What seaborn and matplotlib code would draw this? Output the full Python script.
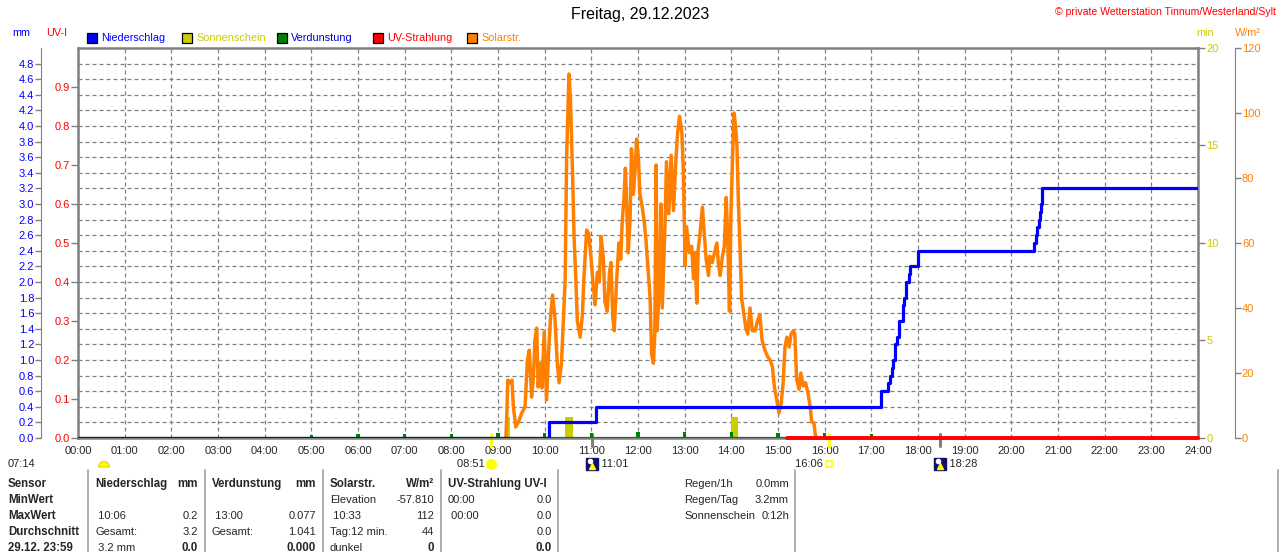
import matplotlib
matplotlib.use("Agg")
import numpy as np
import pandas as pd
import matplotlib.pyplot as plt
import matplotlib.transforms as mtrans
from matplotlib.patches import Rectangle, Wedge
from matplotlib.lines import Line2D
import seaborn as sns

# ---------------- data ----------------
title_text = "Freitag, 29.12.2023"
copyright_text = "\u00a9 private Wetterstation Tinnum/Westerland/Sylt"

hour_ticks = list(range(25))
hour_labels = [f"{h:02d}:00" for h in hour_ticks]
mm_ticks = [round(0.2 * i, 1) for i in range(25)]
uv_ticks = [round(0.1 * i, 1) for i in range(10)]
min_ticks = [0, 5, 10, 15, 20]
wm2_ticks = [0, 20, 40, 60, 80, 100, 120]

# Solarstrahlung (W/m2), time in hours
solar_t = [9.17, 9.19, 9.21, 9.26, 9.30, 9.33, 9.38, 9.44, 9.51, 9.58, 9.63, 9.67, 9.72, 9.76,
           9.79, 9.83, 9.86, 9.90, 9.94, 9.99, 10.04, 10.09, 10.13, 10.17, 10.22, 10.27, 10.31,
           10.36, 10.40, 10.44, 10.47, 10.52, 10.55, 10.60, 10.63, 10.67, 10.70, 10.76, 10.81,
           10.84, 10.90, 10.94, 10.99, 11.04, 11.08, 11.13, 11.17, 11.21, 11.26, 11.29, 11.34,
           11.39, 11.42, 11.46, 11.49, 11.54, 11.59, 11.63, 11.66, 11.70, 11.73, 11.76, 11.79,
           11.83, 11.86, 11.90, 11.94, 11.97, 12.01, 12.04, 12.08, 12.13, 12.17, 12.22, 12.26,
           12.29, 12.33, 12.36, 12.39, 12.41, 12.46, 12.49, 12.52, 12.58, 12.61, 12.66, 12.71,
           12.76, 12.81, 12.85, 12.89, 12.94, 12.97, 13.01, 13.04, 13.10, 13.15, 13.19, 13.22,
           13.26, 13.29, 13.33, 13.38, 13.42, 13.46, 13.51, 13.54, 13.59, 13.64, 13.69, 13.72,
           13.76, 13.81, 13.85, 13.89, 13.92, 13.96, 13.99, 14.03, 14.06, 14.09, 14.12, 14.15,
           14.19, 14.22, 14.27, 14.31, 14.35, 14.40, 14.45, 14.51, 14.56, 14.61, 14.66, 14.72,
           14.78, 14.83, 14.88, 14.92, 14.97, 15.02, 15.07, 15.11, 15.15, 15.19, 15.24, 15.28,
           15.33, 15.36, 15.40, 15.45, 15.49, 15.54, 15.59, 15.64, 15.69, 15.72, 15.77, 15.80,
           15.83]
solar_w = [0, 8, 17.8, 17, 17.8, 9.6, 3.4, 5, 7.7, 9.6, 24, 27, 12.6, 18.8,
           30, 33.8, 15.7, 23, 15.4, 32.6, 11.7, 28, 38, 44, 37, 23, 17,
           23, 36, 49, 86, 112, 105, 80, 62, 48, 36, 31, 38,
           49, 64, 63, 56, 47, 41, 51, 48, 62, 55, 42, 39,
           51, 54, 37, 33, 48, 60, 55, 66, 74, 83, 71, 57,
           67, 89, 75, 83, 92, 86, 75, 72, 67, 61, 51, 43,
           26, 23, 32, 84, 33, 48, 72, 40, 66, 85, 69, 87,
           70, 85, 94, 99, 94, 83, 53, 65, 57, 59, 49, 57,
           41.5, 58, 63, 71, 63, 55, 50, 56, 54, 57, 60, 54,
           50, 56, 59, 74, 63, 39, 68, 88, 100, 96, 90, 73,
           57, 43, 38, 34, 32, 40, 33, 33, 36, 38, 30, 27,
           25, 24, 22, 16, 12, 7.7, 10.8, 17, 28, 31, 28, 32,
           33, 32, 18, 15, 20, 16, 17, 14, 9.6, 5, 4.6, 1,
           0]

# Niederschlag (mm, cumulative)
rain_t = [0.0, 10.10, 11.10, 17.20, 17.36, 17.40, 17.44, 17.47, 17.51, 17.56, 17.59, 17.67,
          17.71, 17.74, 17.81, 17.83, 17.99, 18.01, 20.49, 20.52, 20.56, 20.59, 20.61, 20.64,
          20.65, 24.0]
rain_mm = [0.0, 0.2, 0.4, 0.6, 0.7, 0.8, 0.9, 1.0, 1.2, 1.3, 1.5, 1.7,
           1.8, 2.0, 2.1, 2.2, 2.3, 2.4, 2.5, 2.6, 2.7, 2.8, 2.9, 3.0,
           3.2, 3.2]

# Verdunstung (mm per hour)
evap_t = list(range(1, 24))
evap_mm = [0.015, 0.015, 0.015, 0.015, 0.04, 0.045, 0.045, 0.045, 0.06, 0.06, 0.07, 0.075,
           0.077, 0.075, 0.07, 0.065, 0.055, 0.02, 0.02, 0.02, 0.02, 0.02, 0.02]

# Sonnenschein (min)
sun_start = [9.19, 10.44, 13.99]
sun_end = [9.26, 10.61, 14.14]
sun_min = [1.1, 1.1, 1.1]

# UV-Strahlung (UV-I)
uv_t = [15.19, 24.0]
uv_i = [0.0, 0.0]

# astronomical events
dawn_label = "07:14"
sunrise_t, sunrise_label = 8.85, "08:51"
sunset_t, sunset_label = 16.10, "16:06"
moon_t = [11.02, 18.47]
moon_labels = ["11:01", "18:28"]

legend_items = [("Niederschlag", "#0000ff", "#0000ff"),
                ("Sonnenschein", "#cccc00", "#cccc00"),
                ("Verdunstung", "#008000", "#0000cc"),
                ("UV-Strahlung", "#ff0000", "#ff0000"),
                ("Solarstr.", "#ff8000", "#ff8000")]

table_rows = [
    ["Sensor", "Niederschlag", "mm", "Verdunstung", "mm", "Solarstr.", "W/m\u00b2", "UV-Strahlung UV-I", ""],
    ["MinWert", "", "", "", "", "Elevation", "-57.810", "00:00", "0.0"],
    ["MaxWert", " 10:06", "0.2", " 13:00", "0.077", " 10:33", "112", " 00:00", "0.0"],
    ["Durchschnitt", "Gesamt:", "3.2", "Gesamt:", "1.041", "Tag:12 min.", "44", "", "0.0"],
    ["29.12. 23:59", " 3.2 mm", "0.0", "", "0.000", "dunkel", "0", "", "0.0"],
]
side_rows = [["Regen/1h", "0.0mm"], ["Regen/Tag", "3.2mm"], ["Sonnenschein", "0:12h"]]

# ---------------- figure ----------------
sns.set_style("white")
plt.rcParams["font.family"] = ["Liberation Sans", "DejaVu Sans"]
plt.rcParams["font.size"] = 8

W, H = 1280, 552
fig = plt.figure(figsize=(W / 100, H / 100), dpi=100)


def fx(x):
    return x / W


def fy(y):
    return 1 - y / H


L, R, T, B = 78, 1198, 48, 438
base = fig.add_axes([fx(L), fy(B), (R - L) / W, (B - T) / H])
ax_min = base.twinx()
ax_w = base.twinx()
ax_mm = base.twinx()
ax_uv = base.twinx()

GRAY = "#808080"
base.set_xlim(0, 24)
base.set_ylim(0, 5.0)
base.set_xticks(hour_ticks)
base.set_xticklabels(hour_labels, fontsize=8)
base.set_yticks(mm_ticks)
base.tick_params(axis="x", length=0, pad=5.5)
base.tick_params(axis="y", length=0, labelleft=False, labelright=False)
base.grid(True, color=GRAY, linestyle=(0, (3.2, 2.4)), linewidth=0.9)
for s in base.spines.values():
    s.set_color(GRAY)
    s.set_linewidth(1.8)

for a in (ax_min, ax_w, ax_mm, ax_uv):
    for s in a.spines.values():
        s.set_visible(False)

# sunshine bars (min)
ax_min.set_ylim(0, 20)
ax_min.bar(sun_start, sun_min, width=np.array(sun_end) - np.array(sun_start), align="edge",
           color="#cccc00", edgecolor="none")
ax_min.set_yticks(min_ticks)
ax_min.yaxis.tick_right()
ax_min.tick_params(axis="y", colors=GRAY, labelcolor="#cccc00", length=5, width=1, pad=1, labelsize=8)

# solar
ax_w.set_ylim(0, 120)
sns.lineplot(x=solar_t, y=solar_w, ax=ax_w, color="#ff8000", linewidth=2.5,
             estimator=None, sort=False)
ax_w.set_yticks(wm2_ticks)
ax_w.yaxis.tick_right()
ax_w.spines["right"].set_visible(True)
ax_w.spines["right"].set_position(("outward", 26.6))
ax_w.spines["right"].set_color(GRAY)
ax_w.tick_params(axis="y", colors=GRAY, labelcolor="#ff8000", length=4, width=1, pad=1, labelsize=8)
ax_w.set_ylabel("")

# rain + evaporation (mm)
ax_mm.set_ylim(0, 5.0)
ax_mm.plot([0, 24], [0, 0], color="#008000", linewidth=1.6)
ax_mm.bar(evap_t, evap_mm, width=0.07, color="#008000", edgecolor="none")
sns.lineplot(x=rain_t, y=rain_mm, ax=ax_mm, color="#0000ff", linewidth=2.3,
             drawstyle="steps-post", estimator=None, sort=False)
ax_mm.yaxis.tick_left()
ax_mm.yaxis.set_label_position("left")
ax_mm.set_yticks(mm_ticks)
ax_mm.set_yticklabels([f"{v:.1f}" for v in mm_ticks])
ax_mm.spines["left"].set_visible(True)
ax_mm.spines["left"].set_position(("outward", 26.6))
ax_mm.spines["left"].set_color(GRAY)
ax_mm.tick_params(axis="y", colors=GRAY, labelcolor="#0000ff", length=4, width=1, pad=1, labelsize=8)
ax_mm.set_ylabel("")

# UV
ax_uv.set_ylim(0, 1.0)
sns.lineplot(x=uv_t, y=uv_i, ax=ax_uv, color="#ff0000", linewidth=2.8,
             estimator=None, sort=False)
ax_uv.lines[-1].set_clip_on(False)
ax_uv.yaxis.tick_left()
ax_uv.yaxis.set_label_position("left")
ax_uv.set_yticks(uv_ticks)
ax_uv.set_yticklabels([f"{v:.1f}" for v in uv_ticks])
ax_uv.tick_params(axis="y", colors=GRAY, labelcolor="#ff0000", length=5, width=1, pad=1, labelsize=8)
ax_uv.set_ylabel("")

for a in (ax_w, ax_mm, ax_uv, ax_min):
    a.set_xlim(0, 24)

# ---------------- texts ----------------
fig.text(0.5, fy(15), title_text, ha="center", va="center", fontsize=11.5, color="#000000")
fig.text(fx(1276), fy(12), copyright_text, ha="right", va="center", fontsize=7.6, color="#ff0000")

fig.text(fx(30), fy(33), "mm", ha="right", va="center", fontsize=7.8, color="#0000ff")
fig.text(fx(46), fy(33), "UV-I", ha="left", va="center", fontsize=7.8, color="#ff0000")
fig.text(fx(1205), fy(33), "min", ha="center", va="center", fontsize=7.8, color="#cccc00")
fig.text(fx(1248), fy(33), "W/m\u00b2", ha="center", va="center", fontsize=7.8, color="#ff8000")

leg_x = [87, 182, 277, 373, 467]
for (name, fc, tc), lx in zip(legend_items, leg_x):
    fig.patches.append(Rectangle((fx(lx), fy(43)), 10 / W, 10 / H, transform=fig.transFigure,
                                 facecolor=fc, edgecolor="black", linewidth=0.9))
    fig.text(fx(lx + 14), fy(38), name, ha="left", va="center", fontsize=7.8, color=tc)

# astronomical markers under the axis
bt = mtrans.blended_transform_factory(base.transData, fig.transFigure)
for t in (sunrise_t, sunset_t):
    base.plot([t, t], [fy(434), fy(447)], transform=bt, color="#ffff00", linewidth=2.0, clip_on=False)
for t in moon_t:
    base.plot([t, t], [fy(434), fy(446)], transform=bt, color=GRAY, linewidth=2.2, clip_on=False)

fig.text(fx(8), fy(464), dawn_label, ha="left", va="center", fontsize=8)
fig.patches.append(Wedge((104, H - 467), 5.5, 0, 180, transform=mtrans.IdentityTransform(),
                         facecolor="#ffff00", edgecolor="#e0c000", linewidth=0.6))
# sunrise
base.plot([sunrise_t], [fy(464)], transform=bt, marker="o", markersize=7, color="#ffff00",
          markeredgecolor="#ffff00", clip_on=False)
base.text(sunrise_t, fy(464), sunrise_label + "  ", transform=bt, ha="right", va="center", fontsize=8)
# sunset
base.plot([sunset_t], [fy(464)], transform=bt, marker="s", markersize=5, markerfacecolor="none",
          markeredgecolor="#ffff00", markeredgewidth=1.2, clip_on=False)
base.text(sunset_t, fy(464), sunset_label + "  ", transform=bt, ha="right", va="center", fontsize=8)
# moon
for t, lab in zip(moon_t, moon_labels):
    base.plot([t], [fy(464)], transform=bt, marker="s", markersize=8, color="#10106e", clip_on=False)
    base.plot([t], [fy(466)], transform=bt, marker="^", markersize=4, color="#ffff00", clip_on=False)
    base.plot([t - 0.05], [fy(461)], transform=bt, marker="o", markersize=3, color="white", clip_on=False)
    base.text(t, fy(464), "   " + lab, transform=bt, ha="left", va="center", fontsize=8)

# ---------------- table ----------------
for sx in (88, 205, 323, 441, 558, 795, 1278):
    fig.lines.append(Line2D([fx(sx), fx(sx)], [fy(470), fy(552)],
                            transform=fig.transFigure, color="#a0a0a0", linewidth=1.2))

row_y = [484, 500, 516, 532, 548]
col_left = [8, 95, None, 212, None, 330, None, 448, None]
col_right = [None, None, 198, None, 316, None, 434, None, 552]
for ri, (row, yy) in enumerate(zip(table_rows, row_y)):
    for ci, val in enumerate(row):
        if not val:
            continue
        bold = (ri == 0) or (ci == 0) or (ri == 4 and col_right[ci] is not None)
        kw = dict(va="center", fontsize=8.3 if bold else 8, fontweight="bold" if bold else "normal")
        if col_left[ci] is not None:
            fig.text(fx(col_left[ci]), fy(yy), val, ha="left", **kw)
        else:
            fig.text(fx(col_right[ci]), fy(yy), val, ha="right", **kw)

for (lab, val), yy in zip(side_rows, row_y):
    fig.text(fx(684), fy(yy), lab, ha="left", va="center", fontsize=8)
    fig.text(fx(789), fy(yy), val, ha="right", va="center", fontsize=8)

fig.savefig("out.png", dpi=100)
